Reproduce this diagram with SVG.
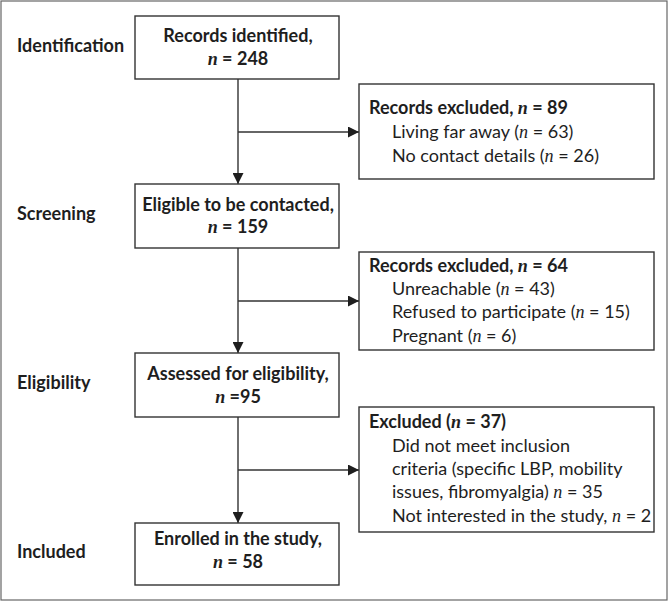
<svg xmlns="http://www.w3.org/2000/svg" width="670" height="602" viewBox="0 0 670 602">
<style>
text{font-family:Lato,"Open Sans",sans-serif;fill:#1e1e1e}
.b{font-weight:bold;font-size:18px}
.r{font-size:18px}
.c{text-anchor:middle}
.n{font-family:"Liberation Serif",serif;font-style:italic}
rect.box{fill:#fff;stroke:#333;stroke-width:1.4}
.ln{stroke:#333;stroke-width:1.4;fill:none}
</style>
<defs>
<marker id="ah" viewBox="0 0 10 10" refX="10" refY="5" markerWidth="11" markerHeight="11" markerUnits="userSpaceOnUse" orient="auto">
<path d="M0,0 L10,5 L0,10 z" fill="#1e1e1e"/>
</marker>
</defs>
<rect x="1" y="1" width="666" height="599" fill="#fff" stroke="#666" stroke-width="1.2"/>
<g id="stages">
<text class="b" x="17" y="52">Identification</text>
<text class="b" x="17" y="220">Screening</text>
<text class="b" x="17" y="389">Eligibility</text>
<text class="b" x="17" y="558">Included</text>
</g>
<g id="connectors">
<line class="ln" x1="238" y1="79" x2="238" y2="184" marker-end="url(#ah)"/>
<line class="ln" x1="238" y1="132" x2="359" y2="132" marker-end="url(#ah)"/>
<line class="ln" x1="238" y1="248" x2="238" y2="353" marker-end="url(#ah)"/>
<line class="ln" x1="238" y1="301" x2="359" y2="301" marker-end="url(#ah)"/>
<line class="ln" x1="238" y1="417" x2="238" y2="523" marker-end="url(#ah)"/>
<line class="ln" x1="238" y1="470" x2="359" y2="470" marker-end="url(#ah)"/>
</g>
<g id="n1">
<rect class="box" x="135" y="16" width="204" height="63"/>
<text class="b c" x="238" y="42">Records identified,</text>
<text class="b c" x="238" y="65"><tspan class="n">n</tspan> = 248</text>
</g>
<g id="n2">
<rect class="box" x="135" y="184" width="204" height="64"/>
<text class="b c" x="238" y="211">Eligible to be contacted,</text>
<text class="b c" x="238" y="233"><tspan class="n">n</tspan> = 159</text>
</g>
<g id="n3">
<rect class="box" x="135" y="353" width="204" height="64"/>
<text class="b c" x="238" y="380">Assessed for eligibility,</text>
<text class="b c" x="238" y="403"><tspan class="n">n</tspan> =95</text>
</g>
<g id="n4">
<rect class="box" x="135" y="523" width="204" height="62"/>
<text class="b c" x="238" y="545">Enrolled in the study,</text>
<text class="b c" x="238" y="568"><tspan class="n">n</tspan> = 58</text>
</g>
<g id="x1">
<rect class="box" x="359" y="84" width="295" height="95"/>
<text class="b" x="369" y="114">Records excluded, <tspan class="n">n</tspan> = 89</text>
<text class="r" x="392" y="138">Living far away (<tspan class="n">n</tspan> = 63)</text>
<text class="r" x="392" y="162">No contact details (<tspan class="n">n</tspan> = 26)</text>
</g>
<g id="x2">
<rect class="box" x="359" y="252" width="295" height="98"/>
<text class="b" x="369" y="272">Records excluded, <tspan class="n">n</tspan> = 64</text>
<text class="r" x="392" y="295">Unreachable (<tspan class="n">n</tspan> = 43)</text>
<text class="r" x="392" y="318">Refused to participate (<tspan class="n">n</tspan> = 15)</text>
<text class="r" x="392" y="342">Pregnant (<tspan class="n">n</tspan> = 6)</text>
</g>
<g id="x3">
<rect class="box" x="359" y="407" width="295" height="125"/>
<text class="b" x="369" y="428">Excluded (<tspan class="n">n</tspan> = 37)</text>
<text class="r" x="392" y="452">Did not meet inclusion</text>
<text class="r" x="392" y="475">criteria (specific LBP, mobility</text>
<text class="r" x="392" y="498">issues, fibromyalgia) <tspan class="n">n</tspan> = 35</text>
<text class="r" x="392" y="522">Not interested in the study, <tspan class="n">n</tspan> = 2</text>
</g>
</svg>
